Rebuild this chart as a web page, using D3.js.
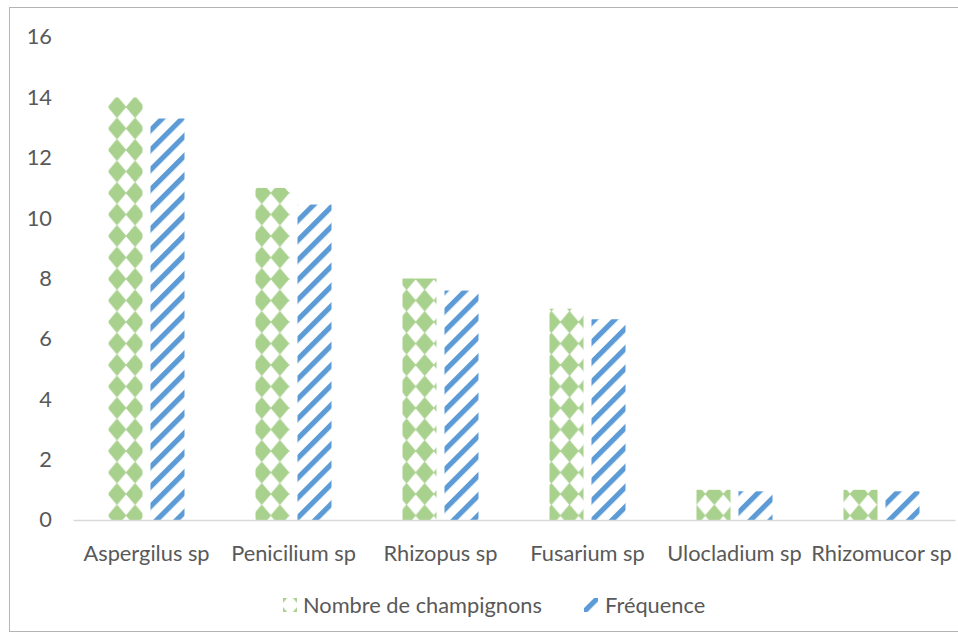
<!DOCTYPE html>
<html>
<head>
<meta charset="utf-8">
<script src="https://cdn.jsdelivr.net/npm/d3@7"></script>
<style>
  html, body { margin: 0; padding: 0; background: #fff; }
  svg { display: block; }
  text { font-family: Lato, "Open Sans", sans-serif; fill: #595959; }
</style>
</head>
<body>
<svg id="chart" width="958" height="638"></svg>
<script>
// Genres fongiques isolés
const categories = ["Aspergilus sp", "Penicilium sp", "Rhizopus sp", "Fusarium sp", "Ulocladium sp", "Rhizomucor sp"];
const seriesNames = ["Nombre de champignons", "Fréquence"];
const nombre = [14, 11, 8, 7, 1, 1];
const frequence = [13.3, 10.45, 7.6, 6.65, 0.95, 0.95];
const yTicks = [0, 2, 4, 6, 8, 10, 12, 14, 16];

const W = 958, H = 638;
const margin = { left: 73, right: 3, top: 37, bottom: 118 };
const svg = d3.select("#chart");
const FONT = 21.8;

const green = "#a9d18e", blue = "#5b9bd5";

const defs = svg.append("defs");

// diamond (checker) fill for the count series
function diamondPattern(id, x0, y0) {
  const pw = 18.1, ph = 21.5;
  const p = defs.append("pattern")
    .attr("id", id)
    .attr("patternUnits", "userSpaceOnUse")
    .attr("x", x0).attr("y", y0)
    .attr("width", pw).attr("height", ph);
  p.append("rect").attr("width", pw).attr("height", ph).attr("fill", "#fff");
  const cx = pw / 2, cy = ph / 2, rx = pw * 0.47, ry = ph * 0.47;
  p.append("path")
    .attr("d", `M${cx},${cy - ry}L${cx + rx},${cy}L${cx},${cy + ry}L${cx - rx},${cy}Z`)
    .attr("fill", green)
    .attr("stroke", green).attr("stroke-width", 1.2).attr("stroke-linejoin", "round");
}
// wide upward diagonal stripes for the frequency series
function stripePattern(id, x0, y0) {
  const s = 14;
  const p = defs.append("pattern")
    .attr("id", id)
    .attr("patternUnits", "userSpaceOnUse")
    .attr("x", x0).attr("y", y0)
    .attr("width", s).attr("height", s)
    .attr("patternTransform", "rotate(45)");
  p.append("rect").attr("width", s).attr("height", s).attr("fill", "#fff");
  p.append("rect").attr("x", 0).attr("width", 5.2).attr("height", s).attr("fill", blue);
}
diamondPattern("pat-green", 117 - 9.05, 107 - 10.75);
stripePattern("pat-blue", 0, 0);
diamondPattern("pat-green-leg", 290, 605);
stripePattern("pat-blue-leg", 3, 0);

const soft = defs.append("filter").attr("id", "soft")
  .attr("x", "-5%").attr("y", "-5%").attr("width", "110%").attr("height", "110%");
soft.append("feGaussianBlur").attr("stdDeviation", 0.55);

// outer chart frame
svg.append("rect")
  .attr("x", 9.5).attr("y", 7.5)
  .attr("width", 960).attr("height", 624)
  .attr("fill", "none").attr("stroke", "#b4b4b4").attr("stroke-width", 1);

const x0 = d3.scaleBand().domain(categories)
  .range([margin.left, W - margin.right]).paddingInner(0).paddingOuter(0);
const bw = x0.bandwidth();
const x1 = d3.scaleBand().domain(seriesNames)
  .range([bw / 2 - 38, bw / 2 + 38]).paddingInner(0.19).paddingOuter(0);
const y = d3.scaleLinear().domain([0, 16]).range([H - margin.bottom, margin.top]);

// y axis labels (no axis line, no gridlines)
const yAxis = d3.axisLeft(y).tickValues(yTicks).tickSize(0).tickPadding(0);
const gy = svg.append("g").attr("transform", `translate(52,0)`).call(yAxis);
gy.select(".domain").remove();
gy.selectAll("text").attr("font-size", FONT).attr("fill", "#595959")
  .style("font-family", "Lato, 'Open Sans', sans-serif");

// bars
const seriesData = [nombre, frequence];
const fills = ["url(#pat-green)", "url(#pat-blue)"];
const gBars = svg.append("g").attr("filter", "url(#soft)");
seriesNames.forEach((name, si) => {
  gBars.selectAll(null)
    .data(categories.map((c, i) => ({ c, v: seriesData[si][i] })))
    .join("rect")
    .attr("x", d => x0(d.c) + x1(name))
    .attr("y", d => y(d.v))
    .attr("width", x1.bandwidth())
    .attr("height", d => y(0) - y(d.v))
    .attr("fill", fills[si]);
});

// category axis
const xAxis = d3.axisBottom(x0).tickSize(0).tickPadding(0);
const gx = svg.append("g").attr("transform", `translate(0,${y(0)})`).call(xAxis);
gx.select(".domain").attr("stroke", "#d9d9d9").attr("stroke-width", 1.3);
gx.selectAll("text").attr("font-size", FONT).attr("fill", "#595959")
  .attr("dy", 0).attr("y", 41)
  .style("font-family", "Lato, 'Open Sans', sans-serif");

// legend
const legend = svg.append("g");
const legItems = [
  { name: seriesNames[0], sx: 283, tx: 303, fill: "url(#pat-green-leg)" },
  { name: seriesNames[1], sx: 584, tx: 605, fill: "url(#pat-blue-leg)" }
];
legItems.forEach(it => {
  legend.append("rect").attr("x", it.sx).attr("y", 598).attr("width", 14).attr("height", 14)
    .attr("fill", it.fill).attr("filter", "url(#soft)");
  legend.append("text").attr("x", it.tx).attr("y", 613)
    .attr("font-size", FONT).text(it.name);
});
</script>
</body>
</html>
